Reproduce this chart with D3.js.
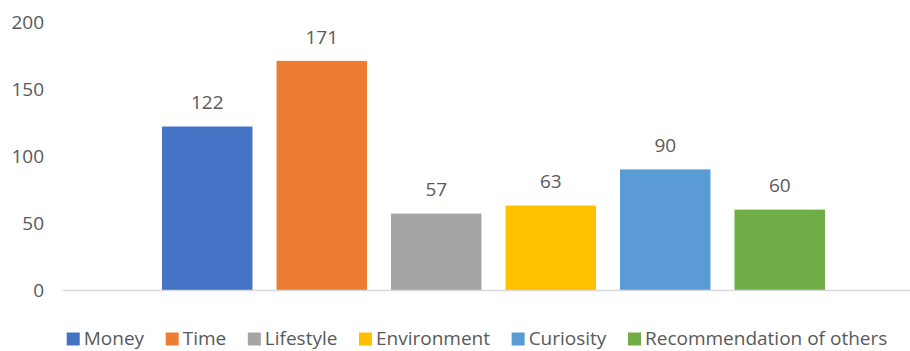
<!DOCTYPE html>
<html>
<head>
<meta charset="utf-8">
<script src="https://cdn.jsdelivr.net/npm/d3@7"></script>
<style>
  body { margin: 0; background: #fff; }
  svg { display: block; }
</style>
</head>
<body>
<svg id="chart" width="910" height="351"></svg>
<script>
// chart data
var seriesNames = ['Money', 'Time', 'Lifestyle', 'Environment', 'Curiosity', 'Recommendation of others'];
var seriesValues = [122, 171, 57, 63, 90, 60];
var seriesColors = ['#4472C4', '#ED7D31', '#A5A5A5', '#FFC000', '#5B9BD5', '#70AD47'];
var yTicks = [0, 50, 100, 150, 200];

var FONT = 'Open Sans, sans-serif';
var FONT_SIZE = 19;
var TEXT_COLOR = '#595959';

var svg = d3.select('#chart');

var baseY = 290, topY = 22;
var plotLeft = 63, plotRight = 910;

var y = d3.scaleLinear().domain([0, 200]).range([baseY, topY]);

// one cluster, bars spaced like excel's gap setting
var x = d3.scaleBand()
  .domain(seriesNames)
  .range([150, 837])
  .paddingInner(0.21)
  .paddingOuter(0.105);

// y axis labels (no axis line, no gridlines)
var yAxis = d3.axisLeft(y).tickValues(yTicks).tickSize(0).tickPadding(0);
var gy = svg.append('g').attr('transform', 'translate(44,0)').call(yAxis);
gy.select('.domain').remove();
gy.selectAll('text')
  .attr('font-family', FONT).attr('font-size', FONT_SIZE)
  .attr('fill', TEXT_COLOR);

// bars
var bars = svg.selectAll('.bar')
  .data(seriesNames)
  .enter().append('rect')
  .attr('class', 'bar')
  .attr('x', function(d) { return x(d); })
  .attr('width', x.bandwidth())
  .attr('y', function(d, i) { return y(seriesValues[i]); })
  .attr('height', function(d, i) { return baseY - y(seriesValues[i]); })
  .attr('fill', function(d, i) { return seriesColors[i]; });

// baseline
svg.append('line')
  .attr('x1', plotLeft).attr('x2', plotRight)
  .attr('y1', baseY + 0.5).attr('y2', baseY + 0.5)
  .attr('stroke', '#D9D9D9').attr('stroke-width', 1.5);

// data labels
svg.selectAll('.lbl')
  .data(seriesNames)
  .enter().append('text')
  .attr('class', 'lbl')
  .attr('x', function(d) { return x(d) + x.bandwidth() / 2; })
  .attr('y', function(d, i) { return y(seriesValues[i]) - 24; })
  .attr('dy', '0.35em')
  .attr('text-anchor', 'middle')
  .attr('font-family', FONT).attr('font-size', FONT_SIZE)
  .attr('fill', TEXT_COLOR)
  .text(function(d, i) { return seriesValues[i]; });

// legend, laid out from measured text widths and centred
var legendY = 338, sw = 13, swGap = 4, itemGap = 21.6;
var legend = svg.append('g');
var items = legend.selectAll('.item')
  .data(seriesNames)
  .enter().append('g')
  .attr('class', 'item');
items.append('rect')
  .attr('width', sw).attr('height', sw)
  .attr('y', legendY - sw / 2 + 1)
  .attr('fill', function(d, i) { return seriesColors[i]; });
items.append('text')
  .attr('x', sw + swGap)
  .attr('y', legendY)
  .attr('dy', '0.35em')
  .attr('font-family', FONT).attr('font-size', FONT_SIZE)
  .attr('fill', TEXT_COLOR)
  .text(function(d) { return d; });

var pos = 0, offsets = [];
items.each(function(d) {
  offsets.push(pos);
  var w = d3.select(this).select('text').node().getComputedTextLength();
  pos += sw + swGap + w + itemGap;
});
var total = pos - itemGap;
var start = 477 - total / 2;
items.attr('transform', function(d, i) { return 'translate(' + (start + offsets[i]) + ',0)'; });
</script>
</body>
</html>
